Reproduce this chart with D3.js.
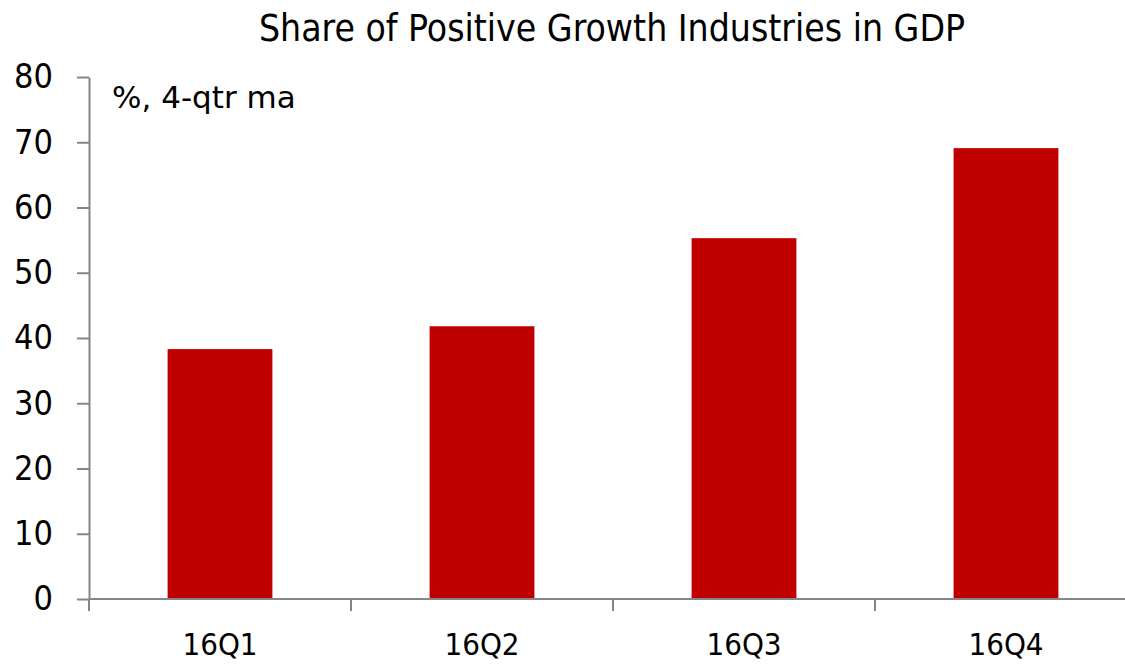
<!DOCTYPE html>
<html><head><meta charset="utf-8">
<script src="https://cdn.jsdelivr.net/npm/d3@7"></script>
<style>body{margin:0;background:#fff}svg{display:block}</style>
</head><body>
<svg id="c" width="1125" height="665"></svg>
<script>
const categories = ["16Q1","16Q2","16Q3","16Q4"];
const values = [38.3, 41.8, 55.3, 69.1];
const yTicks = [0,10,20,30,40,50,60,70,80];
const title = "Share of Positive Growth Industries in GDP";
const unitLabel = "%, 4-qtr ma";

const svg = d3.select("#c");
const x0 = 89, x1 = 1137, yBottom = 599, yTop = 77;
const font = "'DejaVu Sans Condensed', 'DejaVu Sans', sans-serif";
const axisColor = "#868686";

const x = d3.scaleBand().domain(categories).range([x0, x1]).paddingInner(0.6).paddingOuter(0.3);
const y = d3.scaleLinear().domain([0, 80]).range([yBottom, yTop]);

svg.append("text").attr("x", 612).attr("y", 41).attr("text-anchor","middle")
  .attr("font-family", font).attr("font-size", 37).attr("fill","#000").text(title);

svg.selectAll("rect.bar").data(values).join("rect").attr("class","bar")
  .attr("x",(d,i)=>x(categories[i])).attr("width",x.bandwidth())
  .attr("y",d=>y(d)).attr("height",d=>yBottom-y(d)).attr("fill","#c00000");

const yAxis = svg.append("g").attr("transform",`translate(${x0},0)`)
  .call(d3.axisLeft(y).tickValues(yTicks).tickSize(12).tickPadding(24).tickSizeOuter(0));
yAxis.select(".domain").attr("stroke",axisColor).attr("stroke-width",2);
yAxis.selectAll(".tick line").attr("stroke",axisColor).attr("stroke-width",2);
yAxis.selectAll("text").attr("font-family",font).attr("font-size",34).attr("fill","#000");

// x axis with category boundary ticks
const xAxisG = svg.append("g");
xAxisG.append("line").attr("x1",x0).attr("x2",x1).attr("y1",yBottom).attr("y2",yBottom)
  .attr("stroke",axisColor).attr("stroke-width",2);
const boundaries = d3.range(categories.length+1).map(i => x0 + i*x.step());
xAxisG.selectAll("line.tk").data(boundaries).join("line").attr("class","tk")
  .attr("x1",d=>d).attr("x2",d=>d).attr("y1",yBottom).attr("y2",yBottom+12)
  .attr("stroke",axisColor).attr("stroke-width",2);
xAxisG.selectAll("text").data(categories).join("text")
  .attr("x",d=>x(d)+x.bandwidth()/2).attr("y",655).attr("text-anchor","middle")
  .attr("font-family",font).attr("font-size",31).attr("fill","#000").text(d=>d);

svg.append("text").attr("x",112).attr("y",108).attr("font-family","'DejaVu Sans', sans-serif")
  .attr("font-size",31).attr("fill","#000").text(unitLabel);
</script>
</body></html>
